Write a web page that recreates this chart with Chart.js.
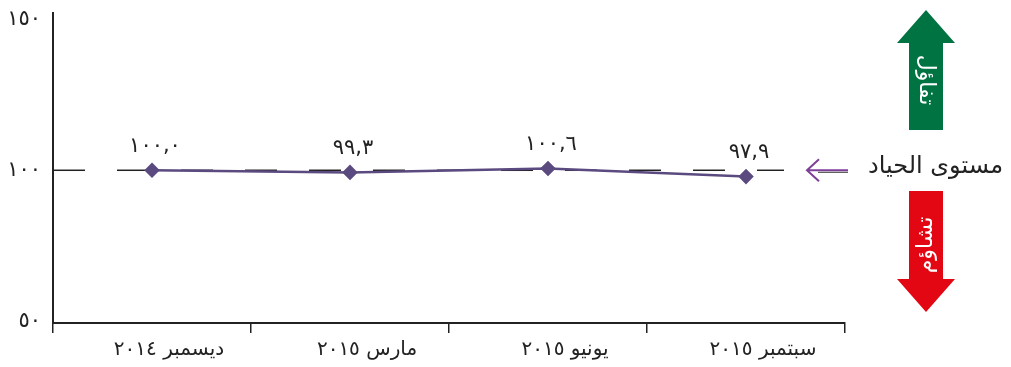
<!DOCTYPE html>
<html lang="ar">
<head>
<meta charset="utf-8">
<script src="https://cdn.jsdelivr.net/npm/chart.js@4.4.1/dist/chart.umd.min.js"></script>
<style>
  html, body { margin: 0; padding: 0; background: #fff; }
  #wrap { width: 1011px; height: 367px; }
</style>
</head>
<body>
<div id="wrap"><canvas id="grafico"></canvas></div>
<script>
// Dados do gráfico
const categorias = ["ديسمبر ٢٠١٤", "مارس ٢٠١٥", "يونيو ٢٠١٥", "سبتمبر ٢٠١٥"];
const valores = [100.0, 99.3, 100.6, 97.9];
const rotulosValores = ["١٠٠,٠", "٩٩,٣", "١٠٠,٦", "٩٧,٩"];
const ticksY = [50, 100, 150];
const rotulosY = { 50: "٥٠", 100: "١٠٠", 150: "١٥٠" };
const nivelNeutro = 100;
const textoNeutro = "مستوى الحياد";
const textoOtimismo = "تفاؤل";
const textoPessimismo = "تشاؤم";

const fonte = "'DejaVu Sans', sans-serif";
const corLinha = "#5b4a7f";

// Linha tracejada no nível 100
const linhaNeutra = {
    id: "linhaNeutra",
    beforeDatasetsDraw(chart) {
        const { ctx, chartArea, scales } = chart;
        const y = scales.y.getPixelForValue(nivelNeutro);
        const xFim = scales.x.getPixelForValue(categorias.length - 1) + 38;
        ctx.save();
        ctx.strokeStyle = "#222";
        ctx.lineWidth = 1.5;
        ctx.setLineDash([32, 32]);
        ctx.beginPath();
        ctx.moveTo(chartArea.left, y);
        ctx.lineTo(xFim, y);
        ctx.stroke();
        ctx.restore();
    }
};

// Rótulos dos valores acima dos pontos
const rotulos = {
    id: "rotulos",
    afterDatasetsDraw(chart) {
        const { ctx } = chart;
        const meta = chart.getDatasetMeta(0);
        ctx.save();
        ctx.font = "21px " + fonte;
        ctx.fillStyle = "#222";
        ctx.textAlign = "center";
        ctx.textBaseline = "middle";
        meta.data.forEach((p, i) => {
            ctx.fillText(rotulosValores[i], p.x + 3, p.y - 24);
        });
        ctx.restore();
    }
};

// Setas à direita
const setas = {
    id: "setas",
    afterDraw(chart) {
        const { ctx, scales } = chart;
        const y = scales.y.getPixelForValue(nivelNeutro);
        ctx.save();

        // seta verde (para cima)
        ctx.fillStyle = "#007343";
        ctx.beginPath();
        ctx.moveTo(909, 130);
        ctx.lineTo(909, 43);
        ctx.lineTo(897, 43);
        ctx.lineTo(926, 10);
        ctx.lineTo(955, 43);
        ctx.lineTo(943, 43);
        ctx.lineTo(943, 130);
        ctx.closePath();
        ctx.fill();

        // seta vermelha (para baixo)
        ctx.fillStyle = "#e30613";
        ctx.beginPath();
        ctx.moveTo(909, 191);
        ctx.lineTo(909, 279);
        ctx.lineTo(897, 279);
        ctx.lineTo(926, 312);
        ctx.lineTo(955, 279);
        ctx.lineTo(943, 279);
        ctx.lineTo(943, 191);
        ctx.closePath();
        ctx.fill();

        ctx.fillStyle = "#fff";
        ctx.font = "22px " + fonte;
        ctx.textAlign = "center";
        ctx.textBaseline = "middle";
        ctx.save();
        ctx.translate(926, 80);
        ctx.rotate(Math.PI / 2);
        ctx.fillText(textoOtimismo, 0, 0);
        ctx.restore();
        ctx.save();
        ctx.translate(926, 245);
        ctx.rotate(-Math.PI / 2);
        ctx.fillText(textoPessimismo, 0, 0);
        ctx.restore();

        // seta roxa (nível neutro)
        ctx.strokeStyle = "#333";
        ctx.lineWidth = 1;
        ctx.beginPath();
        ctx.moveTo(818, y + 2);
        ctx.lineTo(848, y + 2);
        ctx.stroke();
        ctx.strokeStyle = "#7e3f98";
        ctx.lineWidth = 2;
        ctx.beginPath();
        ctx.moveTo(848, y);
        ctx.lineTo(808, y);
        ctx.moveTo(819, y - 11);
        ctx.lineTo(807, y);
        ctx.lineTo(819, y + 11);
        ctx.stroke();

        ctx.fillStyle = "#222";
        ctx.font = "24px " + fonte;
        ctx.textAlign = "right";
        ctx.textBaseline = "middle";
        ctx.fillText(textoNeutro, 1003, y - 4);
        ctx.restore();
    }
};

const dados = {
    labels: categorias,
    datasets: [{
        label: "",
        data: valores,
        borderColor: corLinha,
        backgroundColor: corLinha,
        borderWidth: 2.5,
        pointStyle: "rectRot",
        pointRadius: 6,
        pointHoverRadius: 6,
        tension: 0
    }]
};

const config = {
    type: "line",
    data: dados,
    plugins: [linhaNeutra, rotulos, setas],
    options: {
        responsive: true,
        maintainAspectRatio: false,
        animation: false,
        layout: { padding: { top: 13, right: 166, left: 0, bottom: 0 } },
        plugins: {
            legend: { display: false },
            tooltip: { enabled: false }
        },
        scales: {
            x: {
                offset: true,
                grid: {
                    display: true,
                    offset: true,
                    drawOnChartArea: false,
                    drawTicks: true,
                    tickLength: 10,
                    color: "#222",
                    lineWidth: 1.5
                },
                border: { display: true, color: "#222", width: 2 },
                ticks: {
                    color: "#222",
                    font: { family: fonte, size: 20 },
                    padding: 5,
                    labelOffset: 17,
                    maxRotation: 0
                },
                afterFit(scale) {
                    scale.height = 44;
                    scale.paddingLeft = 0;
                    scale.paddingRight = 0;
                }
            },
            y: {
                min: 49.5,
                max: 152,
                afterBuildTicks(scale) {
                    scale.ticks = ticksY.map(v => ({ value: v }));
                },
                grid: { display: false, drawTicks: false },
                border: { display: true, color: "#222", width: 2 },
                ticks: {
                    color: "#222",
                    font: { family: fonte, size: 21 },
                    padding: 12,
                    callback: (v) => rotulosY[v] || ""
                },
                afterFit(scale) {
                    scale.width = 53;
                    scale.paddingTop = 0;
                    scale.paddingBottom = 0;
                }
            }
        }
    }
};

let grafico = new Chart(document.getElementById("grafico"), config);
</script>
</body>
</html>
